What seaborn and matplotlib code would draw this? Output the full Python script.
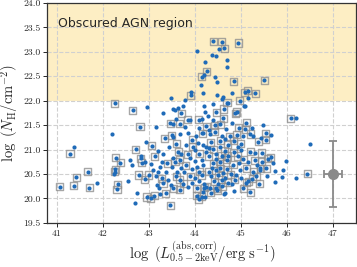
import numpy as np
import pandas as pd
import matplotlib
matplotlib.use("Agg")
import matplotlib.pyplot as plt
import seaborn as sns

# log L(0.5-2 keV, abs-corrected), log NH, boxed flag (1 = square marker)
log_lx = [
    41.07, 41.29, 41.38, 41.37, 41.43, 41.67, 41.71, 41.87, 42.21, 42.26,
    42.28, 42.38, 42.27, 42.26, 42.25, 42.33, 42.31, 42.54, 42.60, 42.64,
    42.65, 42.72, 42.74, 42.71, 42.78, 42.81, 42.83, 42.85, 42.91, 42.93,
    42.96, 42.96, 43.04, 43.12,
    43.49, 43.79, 43.91, 43.91, 44.04, 44.14, 44.17, 44.15, 44.20, 44.23,
    44.26, 44.37, 44.40, 44.44, 44.47, 44.48, 44.49, 44.53, 44.58, 44.60,
    44.62, 44.64, 44.70, 44.71, 44.70, 44.80, 44.85, 44.94, 44.98, 45.08,
    45.15, 45.15, 45.31, 45.51, 45.06,
    46.08, 46.20, 45.54, 45.65, 45.54, 45.44, 46.51, 45.58, 45.65, 45.99,
    45.92, 45.74, 45.57, 45.90, 45.75, 46.19, 46.44, 45.42, 45.34, 45.48,
    45.20, 44.64, 44.49, 44.04, 44.09, 44.15, 45.12, 44.21, 43.67, 43.47,
    43.31, 43.53, 43.71, 43.85, 43.90, 44.09, 44.16, 43.59, 43.47, 43.53,
    43.67, 43.15, 43.78, 43.35, 43.50, 43.52, 43.67, 43.85, 44.02, 44.16,
    43.06, 43.20, 43.30, 43.64, 43.71, 43.96, 44.00, 44.07, 43.53,
    44.20, 44.40, 44.63, 44.47, 44.22, 44.72, 44.91, 45.10, 44.29, 44.62,
    44.40, 44.25, 44.43, 44.80, 45.12, 44.17, 44.33, 44.43, 44.58, 44.76,
    44.91, 45.05, 45.20, 45.27, 45.38, 44.18, 44.25, 44.30, 44.40, 44.54,
    44.72, 44.93, 45.01, 45.20, 45.30, 45.45, 44.30, 44.58, 44.72, 44.93,
    43.57, 43.64, 43.75, 44.88,
    42.84, 42.91, 43.13, 43.28, 43.24, 43.57, 43.67, 43.90, 44.00, 44.16,
    43.09, 43.28, 43.31, 43.17, 43.23, 43.42, 43.49, 43.53, 43.67, 43.85,
    44.00, 44.10, 44.20, 44.04, 44.18, 43.37, 43.20, 43.38, 43.61, 43.77,
    44.18, 44.40, 44.54, 44.69, 44.83, 44.98, 45.12, 45.27, 45.41, 44.51,
    44.65, 44.80, 44.87, 45.05, 45.16, 44.65, 44.25, 44.33, 44.47, 44.22,
    44.30, 44.38, 44.45, 44.55, 44.62, 44.70, 44.78, 44.90, 44.35, 44.42,
    44.58, 44.72, 44.50, 44.60, 44.10, 44.05, 44.15, 43.95, 43.90, 43.80,
    43.70, 43.85, 44.10, 44.25, 44.45, 44.65, 44.85, 45.05, 45.15, 45.30,
    45.35, 44.95, 44.45, 44.35, 44.55, 44.65, 44.85, 45.00, 45.10, 45.25,
    44.95, 44.68, 44.55, 44.30, 44.10, 43.95, 43.80, 43.60, 43.45, 43.40,
    43.50, 43.05, 43.00, 43.15, 43.25, 43.60, 43.75, 43.95, 44.35, 44.85,
    45.00, 45.25, 45.40, 45.55, 45.70, 45.45,
]
log_nh = [
    20.24, 20.92, 21.06, 20.26, 20.43, 20.55, 20.22, 20.32, 21.31, 21.95,
    20.83, 20.73, 20.60, 20.55, 20.50, 20.29, 20.19, 20.36, 20.79, 20.69,
    21.80, 21.01, 20.11, 19.91, 20.48, 21.47, 20.82, 20.73, 20.39, 21.16,
    21.88, 20.03, 20.00, 20.06,
    22.06, 22.02, 22.11, 22.18, 23.01, 22.32, 22.15, 22.49, 22.53, 22.79,
    22.60, 22.94, 23.22, 22.48, 22.91, 22.39, 22.12, 23.05, 23.21, 22.04,
    22.08, 23.07, 22.83, 22.68, 21.96, 22.15, 22.40, 23.18, 22.00, 22.17,
    22.20, 22.06, 22.15, 22.42, 21.89,
    21.64, 21.65, 21.33, 21.29, 21.20, 21.23, 21.12, 20.81, 20.84, 20.77,
    20.58, 20.56, 20.46, 20.43, 20.34, 20.42, 20.51, 20.62, 20.45, 21.51,
    20.13, 20.09, 20.17, 20.06, 19.99, 20.04, 20.32, 20.22, 20.18, 19.86,
    21.74, 21.84, 21.74, 21.61, 21.60, 21.61, 21.63, 21.62, 21.54, 21.52,
    21.53, 21.47, 21.46, 21.23, 21.29, 21.26, 21.31, 21.34, 21.27, 21.33,
    21.08, 20.97, 20.90, 20.96, 20.90, 21.06, 21.00, 21.14, 20.83,
    21.90, 21.93, 21.83, 21.76, 21.77, 21.95, 21.77, 21.90, 21.69, 21.64,
    21.60, 21.48, 21.50, 21.54, 21.55, 21.33, 21.31, 21.37, 21.27, 21.27,
    21.30, 21.27, 21.32, 21.28, 21.16, 21.10, 21.06, 21.03, 21.01, 21.06,
    21.10, 21.05, 20.99, 20.96, 20.94, 20.93, 20.87, 20.87, 20.87, 20.87,
    21.81, 21.85, 21.89, 21.74,
    20.86, 20.75, 20.86, 20.75, 20.65, 20.75, 20.79, 20.82, 20.76, 20.78,
    20.58, 20.41, 20.31, 20.28, 20.22, 20.38, 20.28, 20.21, 20.38, 20.24,
    20.42, 20.35, 20.30, 20.21, 20.14, 20.11, 20.55, 20.55, 20.55, 20.55,
    20.69, 20.72, 20.75, 20.79, 20.69, 20.58, 20.62, 20.55, 20.58, 20.48,
    20.41, 20.29, 20.38, 20.21, 20.35, 20.11, 20.24, 20.21, 20.21, 20.04,
    20.55, 20.62, 20.58, 20.62, 20.52, 20.60, 20.50, 20.48, 20.45, 20.35,
    20.38, 20.32, 20.30, 20.25, 20.55, 20.65, 20.48, 20.60, 20.45, 20.68,
    20.62, 20.90, 20.92, 20.95, 20.92, 20.98, 20.95, 20.80, 20.75, 20.78,
    20.68, 20.72, 20.80, 21.15, 21.18, 21.22, 21.18, 21.12, 21.42, 21.45,
    21.45, 21.42, 21.52, 21.40, 21.45, 21.20, 21.10, 21.12, 21.05, 20.72,
    20.65, 20.70, 20.48, 20.45, 20.10, 20.45, 20.30, 20.32, 20.12, 20.15,
    20.42, 20.40, 20.30, 20.62, 20.72, 20.75,
]
boxed = [
    1, 1, 0, 1, 1, 1, 1, 0, 0, 1,
    1, 1, 1, 1, 0, 1, 1, 0, 0, 0,
    1, 1, 0, 0, 1, 1, 1, 1, 1, 0,
    0, 1, 1, 1,
    0, 0, 1, 0, 0, 0, 0, 1, 0, 0,
    1, 0, 1, 0, 0, 0, 0, 0, 1, 0,
    0, 1, 0, 0, 1, 0, 1, 1, 1, 1,
    1, 0, 1, 1, 0,
    1, 0, 1, 0, 1, 0, 0, 1, 1, 0,
    0, 0, 0, 0, 0, 0, 1, 1, 1, 0,
    1, 0, 1, 1, 1, 1, 1, 1, 1, 1,
    0, 0, 1, 1, 0, 1, 0, 0, 1, 0,
    1, 0, 0, 1, 1, 0, 0, 0, 0, 1,
    1, 0, 0, 1, 0, 1, 0, 0, 0,
    0, 0, 1, 1, 0, 0, 1, 0, 0, 1,
    0, 1, 1, 0, 1, 0, 0, 1, 0, 1,
    1, 0, 1, 0, 1, 0, 0, 0, 1, 0,
    1, 0, 0, 1, 0, 1, 1, 1, 1, 1,
    0, 0, 0, 1,
    0, 0, 1, 0, 0, 1, 1, 0, 0, 0,
    0, 1, 1, 0, 0, 0, 0, 1, 1, 0,
    0, 0, 0, 1, 0, 1, 0, 0, 0, 0,
    0, 1, 1, 1, 1, 0, 1, 1, 0, 1,
    0, 0, 1, 1, 1, 0, 1, 0, 1, 0,
    1, 0, 1, 1, 0, 1, 1, 0, 0, 1,
    1, 1, 0, 1, 1, 0, 1, 0, 1, 1,
    0, 1, 1, 0, 0, 1, 1, 1, 0, 1,
    0, 0, 0, 1, 1, 0, 1, 1, 1, 0,
    1, 0, 1, 0, 0, 1, 0, 1, 0, 1,
    0, 0, 1, 0, 0, 1, 1, 0, 1, 0,
    0, 1, 1, 1, 0, 1,
]

# typical uncertainty shown at the right
err_x, err_y = 47.0, 20.5
err_dx, err_dy = 0.2, 0.67

df = pd.DataFrame({"lx": log_lx, "nh": log_nh, "boxed": boxed})

sns.set_style("ticks")
plt.rcParams["mathtext.fontset"] = "cm"
plt.rcParams["font.family"] = ["DejaVu Sans"]

fig = plt.figure(figsize=(3.57, 2.67), dpi=100)
ax = fig.add_axes([0.133, 0.165, 0.864, 0.824])

ax.axhspan(22, 24, color="#fdeec4", zorder=0, lw=0)
ax.grid(True, ls="--", color="#d0d0d0", lw=0.8, zorder=1)
ax.set_axisbelow(True)

sns.scatterplot(data=df[df.boxed == 1], x="lx", y="nh", marker="s", s=26,
                fc="none", ec="#909090", linewidth=1.0, alpha=0.8,
                ax=ax, zorder=3, legend=False)
sns.scatterplot(data=df, x="lx", y="nh", color="#1f6bb8", s=9,
                linewidth=0, ax=ax, zorder=4, legend=False)

ax.errorbar(err_x, err_y, xerr=err_dx, yerr=err_dy, fmt="o", color="#8a8a8a",
            ms=7, capsize=3, lw=1.3, capthick=1.3, zorder=5)

ax.text(41.02, 23.57, "Obscured AGN region", fontsize=9, va="center")

ax.set_xlim(40.8, 47.5)
ax.set_ylim(19.5, 24.0)
ax.set_xticks(range(41, 48))
ax.set_yticks(np.arange(19.5, 24.01, 0.5))
ax.set_yticklabels([f"{v:.1f}" for v in np.arange(19.5, 24.01, 0.5)])
for lab in ax.get_xticklabels() + ax.get_yticklabels():
    lab.set_fontfamily("cmr10")
    lab.set_fontsize(7)
ax.tick_params(length=3, width=0.7, pad=2)
for sp in ax.spines.values():
    sp.set_visible(True)
    sp.set_color("#333333")
    sp.set_linewidth(0.9)

ax.set_xlabel(r"$\log\ (L^{\rm (abs,corr)}_{0.5-2{\rm keV}}/{\rm erg\ s}^{-1})$",
              fontsize=10.5, labelpad=1)
ax.set_ylabel(r"$\log\ (N_{\rm H}/{\rm cm}^{-2})$", fontsize=10.5, labelpad=2)

fig.savefig("out.png", dpi=100)
